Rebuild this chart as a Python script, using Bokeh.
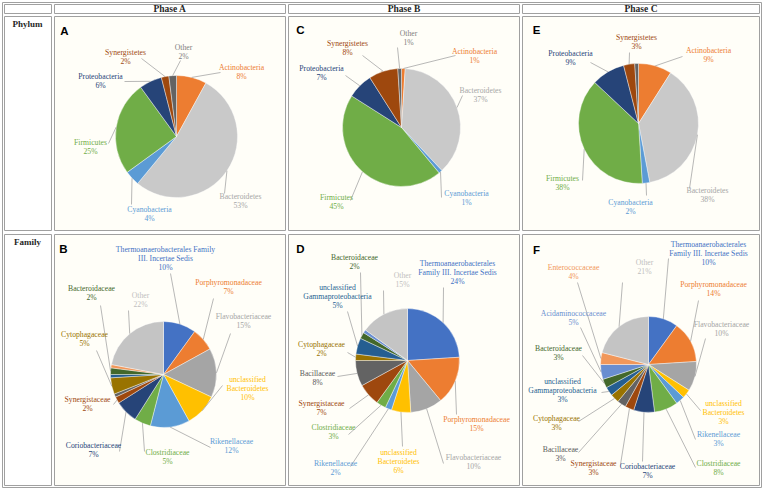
import math
from bokeh.plotting import figure
from bokeh.models import Range1d
from bokeh.embed import file_html
from bokeh.resources import INLINE
from bokeh.core.properties import value

# ---------------- data ----------------
phases = ["Phase A", "Phase B", "Phase C"]
row_names = ["Phylum", "Family"]
panel_letters = [["A", "C", "E"], ["B", "D", "F"]]

phyla = ["Actinobacteria", "Bacteroidetes", "Cyanobacteria", "Firmicutes",
         "Proteobacteria", "Synergistetes", "Other"]
phylum_A = [8, 53, 4, 25, 6, 2, 2]
phylum_B = [1, 37, 1, 45, 7, 8, 1]
phylum_C = [9, 38, 2, 38, 9, 3, 1]

families = ["Thermoanaerobacterales Family III. Incertae Sedis", "Porphyromonadaceae",
            "Flavobacteriaceae", "unclassified Bacteroidetes", "Rikenellaceae",
            "Clostridiaceae", "Coriobacteriaceae", "Synergistaceae", "Bacillaceae",
            "Cytophagaceae", "unclassified Gammaproteobacteria", "Bacteroidaceae",
            "Acidaminococcaceae", "Enterococcaceae", "Other"]
family_A = [10, 7, 15, 10, 12, 5, 7, 2, 1, 5, 1, 2, 0, 1, 22]
family_B = [24, 15, 10, 6, 2, 3, 0, 7, 8, 2, 5, 2, 1, 0, 15]
family_C = [10, 14, 10, 3, 3, 8, 7, 3, 3, 3, 3, 3, 5, 4, 21]

# ---------------- styles ----------------
phylum_colors = ["#ED7D31", "#C9C9C9", "#5B9BD5", "#70AD47", "#264478", "#9E480E", "#636363"]
phylum_label_colors = ["#ED7D31", "#A6A6A6", "#5B9BD5", "#70AD47", "#264478", "#9E480E", "#7F7F7F"]
family_colors = ["#4472C4", "#ED7D31", "#A5A5A5", "#FFC000", "#5B9BD5", "#70AD47", "#264478",
                 "#9E480E", "#636363", "#997300", "#255E91", "#43682B", "#698ED0", "#F1975A", "#C4C4C4"]
family_label_colors = ["#4472C4", "#ED7D31", "#A5A5A5", "#FFC000", "#5B9BD5", "#70AD47", "#264478",
                       "#9E480E", "#595959", "#997300", "#255E91", "#43682B", "#698ED0", "#F1975A", "#BFBFBF"]

SERIF = "Liberation Serif"
SANS = "Liberation Sans"
LABEL_SIZE = "7.7px"
LINE_H = 9.0
GRID_COLOR = "#A0A0A0"
LEADER_COLOR = "#A6A6A6"

# ---------------- layout (screen pixel positions) ----------------
W, H = 764, 490
def Y(y):
    return H - y

col_x = [(4, 51), (54, 285), (288, 519), (522, 759)]
row_y = [(4, 13), (16, 230), (234, 485)]

# per pie: center x, center y, radius, labels: (index, x, y_first, anchor_x, anchor_y, wrap)
pies = [
    dict(vals=phylum_A, names=phyla, colors=phylum_colors, lcolors=phylum_label_colors,
         cx=176, cy=136, r=61,
         labels=[(0, 241, 67, 220, 72, None), (1, 240, 196, 224, 193, None),
                 (2, 149, 209, 131, 204, None), (3, 90, 142, 108, 143, None),
                 (4, 100, 76, 124, 81, None), (5, 125, 52, 141, 58, None),
                 (6, 183, 47, 180, 60, None)]),
    dict(vals=phylum_B, names=phyla, colors=phylum_colors, lcolors=phylum_label_colors,
         cx=401, cy=127, r=59,
         labels=[(0, 474, 51, 455, 55, None), (1, 480, 90, 462, 95, None),
                 (2, 466, 193, 441, 197, None), (3, 336, 197, 350, 200, None),
                 (4, 321, 68, 345, 75, None), (5, 347, 43, 362, 55, None),
                 (6, 408, 33, 397, 47, None)]),
    dict(vals=phylum_C, names=phyla, colors=phylum_colors, lcolors=phylum_label_colors,
         cx=638, cy=123, r=60,
         labels=[(0, 708, 50, 682, 56, None), (1, 707, 190, 689, 188, None),
                 (2, 630, 202, 646, 195, None), (3, 562, 178, 582, 180, None),
                 (4, 570, 53, 590, 62, None), (5, 636, 37, 629, 52, None)]),
    dict(vals=family_A, names=families, colors=family_colors, lcolors=family_label_colors,
         cx=163, cy=374, r=53,
         labels=[(0, 165, 249, 170, 273, [2, 3]), (1, 228, 282, 213, 298, None),
                 (2, 243, 316, 230, 333, None), (3, 247, 379, 222, 385, [1, 1]),
                 (4, 231, 441, 210, 447, None), (5, 167, 452, 144, 451, None),
                 (6, 93, 445, 119, 451, None), (7, 87, 399, 113, 404, None),
                 (9, 84, 334, 96, 350, None), (11, 91, 288, 100, 305, None),
                 (14, 140, 295, 128, 310, None)]),
    dict(vals=family_B, names=families, colors=family_colors, lcolors=family_label_colors,
         cx=407, cy=360, r=52,
         labels=[(11, 354, 257, 360, 272, None), (0, 457, 263, 443, 287, [1, 4]),
                 (14, 402, 275, 383, 290, None), (10, 337, 287, 347, 311, [1, 1]),
                 (9, 321, 344, 347, 352, None), (8, 317, 373, 337, 376, None),
                 (7, 321, 403, 349, 408, None), (5, 333, 427, 348, 434, None),
                 (4, 335, 463, 350, 466, None), (3, 398, 452, 402, 446, [1, 1]),
                 (2, 473, 457, 443, 463, None), (1, 476, 419, 456, 414, None)]),
    dict(vals=family_C, names=families, colors=family_colors, lcolors=family_label_colors,
         cx=648, cy=364, r=48,
         labels=[(0, 708, 244, 668, 258, [1, 4]), (1, 713, 284, 698, 300, None),
                 (2, 721, 324, 705, 338, None), (3, 723, 403, 700, 410, [1, 1]),
                 (4, 718, 434, 695, 439, None), (5, 718, 463, 695, 467, None),
                 (6, 647, 466, 642, 461, None), (7, 593, 463, 620, 464, None),
                 (8, 560, 449, 578, 452, None), (9, 556, 418, 578, 421, None),
                 (10, 562, 381, 601, 392, [1, 1]), (11, 558, 348, 582, 355, None),
                 (12, 573, 313, 580, 327, None), (13, 573, 267, 577, 282, None),
                 (14, 644, 262, 622, 282, None)]),
]

letter_pos = [[(64, 30), (300, 29), (536, 29)], [(63, 248), (300, 248), (536, 249)]]

# ---------------- figure ----------------
p = figure(width=W, height=H, output_backend="svg", toolbar_location=None,
           x_range=Range1d(0, W), y_range=Range1d(0, H),
           x_axis_location=None, y_axis_location=None, min_border=0)
p.grid.visible = False
p.outline_line_color = None
p.background_fill_color = "white"
p.border_fill_color = "white"

# table: outer border and cells
p.quad(left=[2], right=[761], top=[Y(2)], bottom=[Y(487)], fill_color=None,
       line_color=GRID_COLOR, line_width=1)
L, R, T, B, F = [], [], [], [], []
for ri, (y0, y1) in enumerate(row_y):
    for ci, (x0, x1) in enumerate(col_x):
        L.append(x0); R.append(x1); T.append(Y(y0)); B.append(Y(y1))
        F.append("#FFFEF8" if (ri > 0 and ci > 0) else "white")
p.quad(left=L, right=R, top=T, bottom=B, fill_color=F, line_color=GRID_COLOR, line_width=1)

# headers
hx = [(x0 + x1) / 2 for (x0, x1) in col_x[1:]]
p.text(x=hx, y=[Y(8.5)] * 3, text=phases, text_font=value(SERIF), text_font_size="9.5px",
       text_font_style="bold", text_color="#262626", text_align="center", text_baseline="middle")
p.text(x=[27, 27], y=[Y(23), Y(241)], text=row_names, text_font=value(SERIF), text_font_size="9px",
       text_font_style="bold", text_color="#262626", text_align="center", text_baseline="middle")

# panel letters
lx, ly, lt = [], [], []
for ri in range(2):
    for ci in range(3):
        lx.append(letter_pos[ri][ci][0]); ly.append(Y(letter_pos[ri][ci][1]))
        lt.append(panel_letters[ri][ci])
p.text(x=lx, y=ly, text=lt, text_font=value(SANS), text_font_size="11.5px", text_font_style="bold",
       text_color="black", text_align="center", text_baseline="middle")

# pies
for pie in pies:
    vals = pie["vals"]
    total = float(sum(vals))
    cx, cy, r = pie["cx"], pie["cy"], pie["r"]
    starts, ends, cols, mids = [], [], [], {}
    cum = 0.0
    for i, v in enumerate(vals):
        c0 = cum / total
        cum += v
        c1 = cum / total
        mids[i] = math.pi * (c0 + c1)  # clockwise angle from top
        if v <= 0:
            continue
        starts.append(math.pi / 2 - 2 * math.pi * c1)
        ends.append(math.pi / 2 - 2 * math.pi * c0)
        cols.append(pie["colors"][i])
    n = len(starts)
    p.wedge(x=[cx] * n, y=[Y(cy)] * n, radius=r, start_angle=starts, end_angle=ends,
            fill_color=cols, line_color="white", line_width=0.4)

    # labels and leaders
    xs0, ys0, xs1, ys1 = [], [], [], []
    tx, ty, tt, tc = [], [], [], []
    for (idx, x, y, ax, ay, wrap) in pie["labels"]:
        th = mids[idx]
        ex = cx + r * math.sin(th)
        ey = cy - r * math.cos(th)
        xs0.append(ax); ys0.append(Y(ay)); xs1.append(ex); ys1.append(Y(ey))
        words = pie["names"][idx].split(" ")
        lines = []
        if wrap:
            k = 0
            for w in wrap:
                lines.append(" ".join(words[k:k + w])); k += w
            if k < len(words):
                lines.append(" ".join(words[k:]))
        else:
            lines.append(pie["names"][idx])
        lines.append(f"{vals[idx]}%")
        for j, s in enumerate(lines):
            tx.append(x); ty.append(Y(y + j * LINE_H)); tt.append(s)
            tc.append(pie["lcolors"][idx])
    p.segment(x0=xs0, y0=ys0, x1=xs1, y1=ys1, line_color=LEADER_COLOR, line_width=0.8)
    p.text(x=tx, y=ty, text=tt, text_color=tc, text_font=value(SERIF), text_font_size=LABEL_SIZE,
           text_align="center", text_baseline="middle")

open("out.html", "w").write(file_html(p, INLINE))
